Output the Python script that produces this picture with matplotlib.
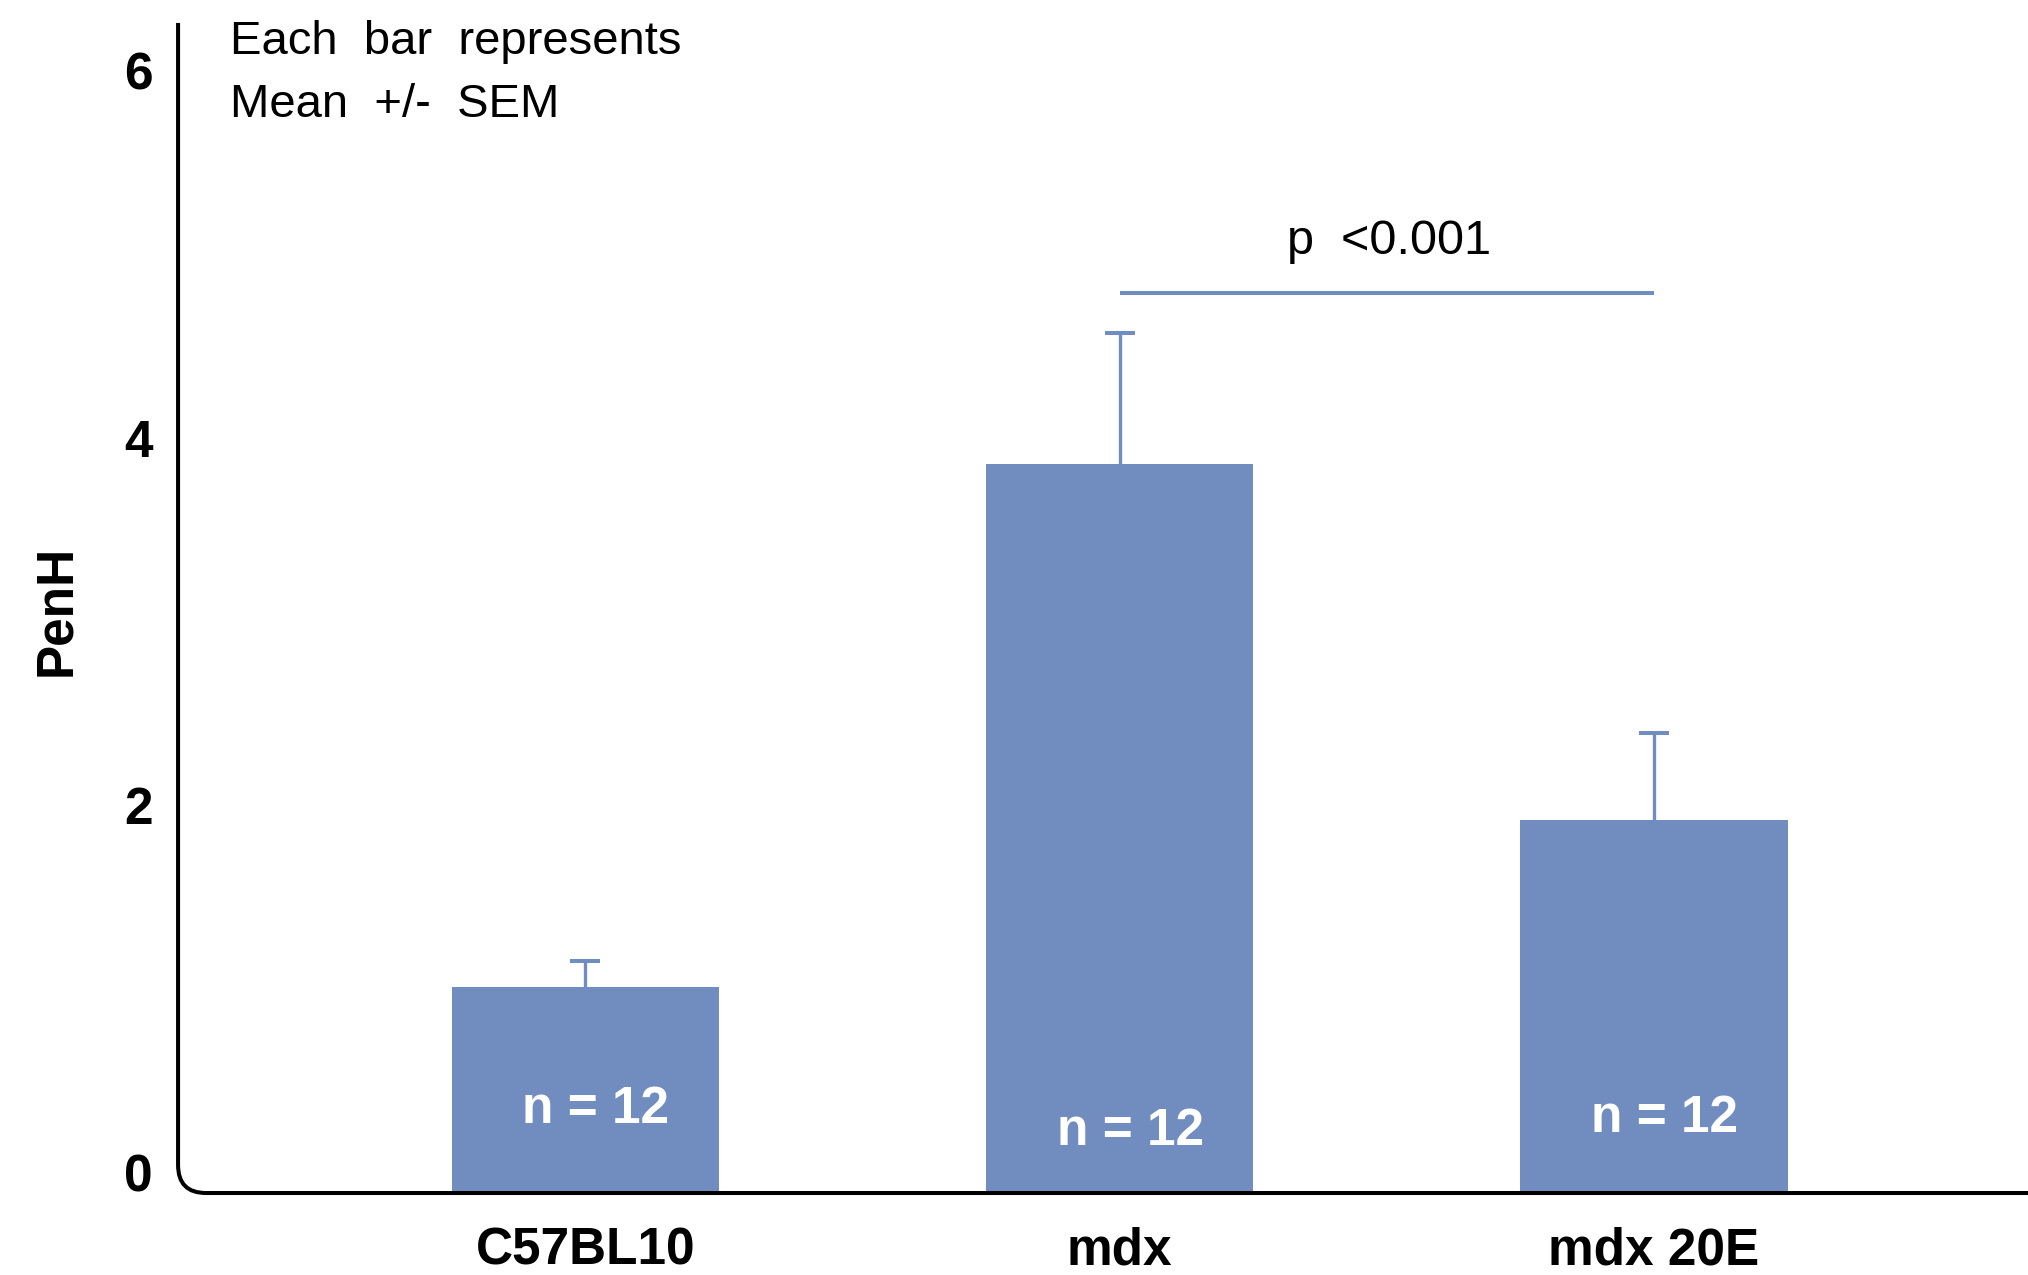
import numpy as np
import matplotlib
matplotlib.use("Agg")
import matplotlib.pyplot as plt
from matplotlib.path import Path
from matplotlib.patches import PathPatch

plt.rcParams['font.family'] = ['Liberation Sans', 'DejaVu Sans']

# ---------------------------------------------------------
# Données
# ---------------------------------------------------------
groupes = ["C57BL10", "mdx", "mdx 20E"]
penh_moy = np.array([1.01, 3.86, 1.92])
penh_sem = np.array([0.14, 0.71, 0.47])
n_labels = ["n = 12", "n = 12", "n = 12"]
n_label_y = [0.34, 0.22, 0.29]
yticks = [0, 2, 4, 6]
p_texte = "p  <0.001"
sig_y = 4.79

couleur = "#718DBF"
y_bas = -0.114   # le bas des barres est sur l'axe, un peu sous 0

fig = plt.figure(figsize=(20.28, 12.75), dpi=100)
ax = fig.add_axes([0.0878, 0.0643, 0.9122, 0.9176])

x = np.arange(len(groupes))

# barres d'erreur : seulement la partie haute
_, caps, _ = ax.errorbar(x, penh_moy, yerr=[np.zeros(3), penh_sem], fmt="none",
                         ecolor=couleur, elinewidth=2.4, capsize=10.8,
                         capthick=2.9, zorder=1)
caps[0].set_visible(False)
ax.bar(x, penh_moy - y_bas, bottom=y_bas, width=0.5, color=couleur, zorder=2)

for xi, lab, yl in zip(x, n_labels, n_label_y):
    ax.text(xi + 0.02, yl, lab, color="white", fontsize=37, fontweight="bold",
            ha="center", va="center", zorder=3)

# significativité mdx vs mdx 20E
ax.plot([1, 2], [sig_y, sig_y], color=couleur, lw=2.9, solid_capstyle="butt")
ax.text(1.505, 5.0, p_texte, fontsize=35, ha="center", va="baseline")

ax.text(0.028, 0.9735, "Each  bar  represents", transform=ax.transAxes,
        fontsize=34, va="baseline", ha="left")
ax.text(0.028, 0.9195, "Mean  +/-  SEM", transform=ax.transAxes,
        fontsize=34, va="baseline", ha="left")

ax.set_xlim(-0.762, 2.70)
ax.set_ylim(y_bas, 6.26)
ax.set_xticks(x)
ax.set_xticklabels(groupes, fontsize=37, fontweight="bold")
ax.set_yticks(yticks)
ax.set_yticklabels([str(v) for v in yticks], fontsize=37, fontweight="bold")
ax.tick_params(axis="x", length=0, pad=24)
ax.tick_params(axis="y", length=0, pad=18)
ax.set_ylabel("PenH", fontsize=37, fontweight="bold")
ax.yaxis.set_label_coords(-0.0525, 0.498)

for s in ax.spines.values():
    s.set_visible(False)

# axes en L avec coin arrondi
x0, y0 = 0.0878, 0.0643
rx, ry = 28 / 2028, 28 / 1275
verts = [(x0, 0.982), (x0, y0 + ry), (x0, y0), (x0 + rx, y0), (1.0, y0)]
codes = [Path.MOVETO, Path.LINETO, Path.CURVE3, Path.CURVE3, Path.LINETO]
fig.add_artist(PathPatch(Path(verts, codes), fill=False, lw=2.9,
                         edgecolor="black", transform=fig.transFigure, zorder=5))

plt.savefig("out.png", dpi=100)
